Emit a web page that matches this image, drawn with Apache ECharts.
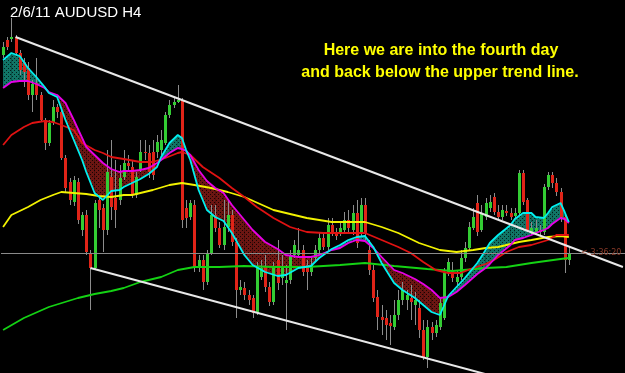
<!DOCTYPE html>
<html>
<head>
<meta charset="utf-8">
<script src="https://cdn.jsdelivr.net/npm/echarts@6/dist/echarts.min.js"></script>
<style>
  html, body { margin: 0; padding: 0; background: #000; }
  #chart { width: 625px; height: 373px; }
</style>
</head>
<body>
<div id="chart"></div>
<script>
// H4 candles, index 0 = left-most bar
var candleOpen = [1.0345,1.0360,1.0361,1.0363,1.0347,1.0338,1.0332,1.0305,1.0317,1.0305,
  1.0280,1.0257,1.0277,1.0293,1.0288,1.0242,1.0218,1.0198,1.0218,1.0170,
  1.0185,1.0147,1.0132,1.0200,1.0192,1.0170,1.0223,1.0202,1.0200,1.0223,
  1.0237,1.0233,1.0205,1.0230,1.0248,1.0247,1.0248,1.0248,1.0250,1.0257,
  1.0285,1.0295,1.0298,1.0300,1.0192,1.0183,1.0195,1.0132,1.0140,1.0118,
  1.0147,1.0185,1.0172,1.0155,1.0173,1.0185,1.0158,1.0110,1.0112,1.0105,
  1.0102,1.0088,1.0123,1.0133,1.0113,1.0098,1.0140,1.0122,1.0117,1.0120,
  1.0145,1.0145,1.0150,1.0135,1.0128,1.0142,1.0150,1.0162,1.0153,1.0175,
  1.0167,1.0167,1.0170,1.0180,1.0170,1.0187,1.0167,1.0195,1.0150,1.0130,
  1.0103,1.0083,1.0082,1.0077,1.0073,1.0085,1.0100,1.0100,1.0102,1.0095,
  1.0092,1.0070,1.0043,1.0073,1.0067,1.0073,1.0082,1.0127,1.0130,1.0118,
  1.0123,1.0142,1.0152,1.0172,1.0197,1.0170,1.0183,1.0192,1.0203,1.0188,
  1.0183,1.0189,1.0187,1.0184,1.0187,1.0227,1.0200,1.0168,1.0168,1.0170,
  1.0168,1.0213,1.0225,1.0217,1.0208,1.0183,1.0140];
var candleClose = [1.0353,1.0353,1.0363,1.0347,1.0330,1.0328,1.0305,1.0316,1.0305,1.0280,
  1.0257,1.0277,1.0293,1.0288,1.0242,1.0212,1.0200,1.0220,1.0180,1.0185,
  1.0148,1.0132,1.0197,1.0190,1.0170,1.0228,1.0193,1.0190,1.0222,1.0237,
  1.0234,1.0205,1.0223,1.0248,1.0247,1.0228,1.0225,1.0258,1.0260,1.0285,
  1.0295,1.0298,1.0300,1.0180,1.0182,1.0197,1.0132,1.0140,1.0118,1.0147,
  1.0185,1.0172,1.0155,1.0173,1.0185,1.0158,1.0110,1.0113,1.0105,1.0100,
  1.0087,1.0133,1.0132,1.0113,1.0098,1.0133,1.0117,1.0132,1.0120,1.0145,
  1.0155,1.0150,1.0128,1.0128,1.0135,1.0150,1.0162,1.0153,1.0175,1.0167,
  1.0164,1.0172,1.0180,1.0172,1.0187,1.0157,1.0195,1.0167,1.0130,1.0102,
  1.0083,1.0080,1.0075,1.0074,1.0085,1.0100,1.0110,1.0105,1.0098,1.0100,
  1.0070,1.0043,1.0073,1.0067,1.0075,1.0097,1.0127,1.0138,1.0122,1.0123,
  1.0142,1.0152,1.0173,1.0183,1.0168,1.0187,1.0197,1.0198,1.0188,1.0183,
  1.0190,1.0187,1.0183,1.0187,1.0227,1.0198,1.0170,1.0172,1.0172,1.0168,
  1.0213,1.0225,1.0217,1.0208,1.0183,1.0140,1.0147];
var candleLow = [1.0342,1.0350,1.0358,1.0344,1.0325,1.0313,1.0300,1.0288,1.0300,1.0278,
  1.0250,1.0254,1.0275,1.0282,1.0240,1.0208,1.0195,1.0194,1.0176,1.0164,
  1.0145,1.0090,1.0130,1.0172,1.0148,1.0165,1.0180,1.0172,1.0195,1.0220,
  1.0228,1.0202,1.0202,1.0228,1.0240,1.0222,1.0220,1.0242,1.0245,1.0255,
  1.0282,1.0292,1.0297,1.0172,1.0172,1.0180,1.0128,1.0128,1.0110,1.0115,
  1.0145,1.0168,1.0152,1.0150,1.0168,1.0154,1.0082,1.0105,1.0100,1.0095,
  1.0082,1.0085,1.0120,1.0108,1.0094,1.0095,1.0110,1.0115,1.0070,1.0116,
  1.0142,1.0142,1.0124,1.0110,1.0124,1.0138,1.0146,1.0150,1.0150,1.0164,
  1.0160,1.0164,1.0166,1.0168,1.0165,1.0152,1.0164,1.0160,1.0125,1.0098,
  1.0070,1.0065,1.0060,1.0055,1.0070,1.0080,1.0095,1.0090,1.0080,1.0075,
  1.0062,1.0040,1.0032,1.0060,1.0063,1.0070,1.0080,1.0124,1.0118,1.0115,
  1.0120,1.0138,1.0150,1.0170,1.0164,1.0168,1.0180,1.0188,1.0185,1.0180,
  1.0180,1.0184,1.0180,1.0181,1.0185,1.0195,1.0168,1.0165,1.0165,1.0164,
  1.0165,1.0210,1.0212,1.0204,1.0178,1.0127,1.0135];
var candleHigh = [1.0358,1.0363,1.0382,1.0365,1.0350,1.0342,1.0338,1.0320,1.0342,1.0308,
  1.0282,1.0280,1.0300,1.0296,1.0292,1.0245,1.0222,1.0224,1.0222,1.0188,
  1.0190,1.0150,1.0200,1.0204,1.0196,1.0250,1.0260,1.0240,1.0235,1.0250,
  1.0245,1.0240,1.0228,1.0260,1.0260,1.0255,1.0260,1.0265,1.0270,1.0288,
  1.0300,1.0302,1.0315,1.0302,1.0200,1.0200,1.0200,1.0145,1.0145,1.0150,
  1.0195,1.0195,1.0178,1.0200,1.0200,1.0190,1.0162,1.0120,1.0118,1.0110,
  1.0105,1.0138,1.0140,1.0145,1.0118,1.0138,1.0160,1.0145,1.0135,1.0150,
  1.0160,1.0172,1.0155,1.0140,1.0142,1.0155,1.0168,1.0168,1.0182,1.0182,
  1.0172,1.0178,1.0188,1.0190,1.0195,1.0200,1.0202,1.0202,1.0160,1.0135,
  1.0110,1.0095,1.0090,1.0085,1.0100,1.0110,1.0118,1.0110,1.0115,1.0108,
  1.0100,1.0080,1.0080,1.0078,1.0080,1.0102,1.0132,1.0142,1.0138,1.0130,
  1.0150,1.0158,1.0178,1.0192,1.0205,1.0195,1.0202,1.0205,1.0207,1.0195,
  1.0195,1.0195,1.0192,1.0192,1.0230,1.0230,1.0202,1.0178,1.0180,1.0175,
  1.0216,1.0228,1.0228,1.0222,1.0212,1.0186,1.0153];

// fast pair of averages (cyan / magenta), read at the same bars
var maIdx = [0,2,4,6,8,10,11,13,15,17,19,20,22,24,26,28,29,31,33,35,
  37,38,40,42,43,44,45,47,49,51,53,55,58,60,63,66,68,71,74,76,
  79,81,83,85,87,89,91,94,96,99,101,103,105,107,109,111,114,116,117,119,
  122,123,125,127,128,130,131,132,134,135,136];
var cyanMA = [1.0340,1.0347,1.0344,1.0332,1.0323,1.0313,1.0307,1.0303,1.0280,1.0260,
  1.0240,1.0228,1.0207,1.0200,1.0209,1.0210,1.0213,1.0217,1.0221,1.0226,
  1.0233,1.0243,1.0257,1.0265,1.0262,1.0250,1.0240,1.0210,1.0190,1.0183,
  1.0179,1.0167,1.0145,1.0135,1.0128,1.0124,1.0125,1.0132,1.0134,1.0142,
  1.0151,1.0155,1.0160,1.0163,1.0164,1.0153,1.0137,1.0117,1.0110,1.0102,
  1.0095,1.0088,1.0085,1.0104,1.0113,1.0122,1.0137,1.0150,1.0157,1.0165,
  1.0175,1.0181,1.0187,1.0187,1.0183,1.0182,1.0187,1.0193,1.0197,1.0188,1.0178];
var magentaMA = [1.0312,1.0318,1.0319,1.0319,1.0316,1.0312,1.0308,1.0305,1.0297,1.0280,
  1.0262,1.0253,1.0245,1.0237,1.0231,1.0228,1.0229,1.0229,1.0230,1.0232,
  1.0237,1.0240,1.0247,1.0252,1.0251,1.0249,1.0245,1.0230,1.0219,1.0212,
  1.0207,1.0195,1.0180,1.0170,1.0158,1.0151,1.0145,1.0143,1.0143,1.0145,
  1.0150,1.0152,1.0157,1.0160,1.0159,1.0152,1.0143,1.0130,1.0127,1.0121,
  1.0116,1.0110,1.0102,1.0103,1.0108,1.0115,1.0126,1.0132,1.0136,1.0145,
  1.0155,1.0160,1.0162,1.0165,1.0167,1.0170,1.0172,1.0176,1.0182,1.0181,1.0177];

// slower averages as [bar, price]
var redMA = [[0,1.0255],[2,1.0265],[5,1.0273],[7,1.0277],[10,1.0279],[12,1.0278],[14,1.0275],
  [17,1.0270],[19,1.0257],[22,1.0250],[24,1.0247],[26,1.0243],[29,1.0241],[33,1.0238],
  [36,1.0238],[39,1.0242],[42,1.0247],[43,1.0248],[45,1.0245],[48,1.0233],[52,1.0222],
  [55,1.0212],[58,1.0203],[61,1.0193],[65,1.0182],[69,1.0173],[73,1.0168],[77,1.0167],
  [81,1.0167],[87,1.0167],[91,1.0160],[95,1.0153],[98,1.0147],[101,1.0138],[104,1.0130],
  [107,1.0127],[110,1.0127],[113,1.0132],[116,1.0136],[118,1.0140],[121,1.0148],
  [124,1.0153],[127,1.0155],[131,1.0160],[133,1.0165],[136,1.0165]];
var yellowMA = [[0,1.0173],[2,1.0185],[6,1.0193],[9,1.0200],[12,1.0205],[14,1.0208],
  [17,1.0207],[20,1.0206],[23,1.0204],[26,1.0203],[29,1.0205],[31,1.0205],[36,1.0210],
  [40,1.0215],[43,1.0217],[46,1.0215],[50,1.0212],[54,1.0208],[58,1.0203],[65,1.0190],
  [73,1.0182],[79,1.0178],[87,1.0178],[91,1.0173],[95,1.0167],[100,1.0157],[105,1.0150],
  [109,1.0148],[113,1.0150],[116,1.0152],[119,1.0153],[124,1.0158],[127,1.0160],
  [131,1.0163],[134,1.0164],[136,1.0163]];
var greenMA = [[0,1.0070],[5,1.0082],[11,1.0093],[18,1.0102],[22,1.0106],[26,1.0109],
  [29,1.0112],[33,1.0118],[38,1.0123],[42,1.0130],[46,1.0133],[52,1.0133],[58,1.0134],
  [65,1.0133],[73,1.0133],[81,1.0135],[87,1.0137],[94,1.0134],[102,1.0131],[108,1.0129],
  [116,1.0132],[121,1.0133],[127,1.0137],[134,1.0141],[136,1.0142]];

// hand drawn trend lines [bar, price]
var upperTrend = [[3,1.0363],[149,1.0133]];
var lowerTrend = [[21,1.0132],[149,0.9989]];
var bidPrice = 1.0147;

function dots(bg, dot) {
  var c = document.createElement('canvas');
  c.width = 4; c.height = 4;
  var g = c.getContext('2d');
  g.fillStyle = bg; g.fillRect(0, 0, 4, 4);
  g.fillStyle = dot; g.fillRect(0, 0, 1, 1); g.fillRect(2, 2, 1, 1);
  return c;
}
var tealFill = { image: dots('#117566', '#02201c'), repeat: 'repeat' };
var redFill = { image: dots('#6c1612', '#150404'), repeat: 'repeat' };

var chart = echarts.init(document.getElementById('chart'));

var candleData = candleOpen.map(function (o, i) {
  return [i, o, candleClose[i], candleLow[i], candleHigh[i]];
});

function pairs(idx, vals) {
  return idx.map(function (i, k) { return [i, vals[k]]; });
}

function maLine(data, color, z) {
  return {
    type: 'line', data: data, showSymbol: false, symbol: 'none',
    smooth: false, z: z, silent: true,
    lineStyle: { color: color, width: 1.8 }
  };
}

var option = {
  backgroundColor: '#000',
  animation: false,
  grid: { left: 1, right: 0, top: 0, bottom: 0 },
  xAxis: { type: 'value', min: -0.5, max: 149.5, show: false },
  yAxis: { type: 'value', min: 1.0027, max: 1.0400, show: false },
  graphic: [
    { type: 'text', left: 10, top: 5, style: { text: '2/6/11 AUDUSD H4', fill: '#fff', font: '15px "Liberation Sans", Arial, sans-serif' } },
    { type: 'text', x: 441, y: 43, style: { text: 'Here we are into the fourth day', fill: '#ffff00', align: 'center', font: 'bold 16px "Liberation Sans", Arial, sans-serif' } },
    { type: 'text', x: 440, y: 65, style: { text: 'and back below the upper trend line.', fill: '#ffff00', align: 'center', font: 'bold 16px "Liberation Sans", Arial, sans-serif' } },
    { type: 'text', x: 581, y: 249, z: 20, style: { text: '<-3:36:20', fill: '#8a3a28', font: '8px "DejaVu Sans", sans-serif' } }
  ],
  series: [
    {
      // band between the cyan and magenta averages
      type: 'custom', silent: true, z: 1,
      data: [[0, 1.02]],
      renderItem: function (params, api) {
        var kids = [];
        for (var k = 0; k < maIdx.length - 1; k++) {
          var c1 = api.coord([maIdx[k], cyanMA[k]]);
          var c2 = api.coord([maIdx[k + 1], cyanMA[k + 1]]);
          var m1 = api.coord([maIdx[k], magentaMA[k]]);
          var m2 = api.coord([maIdx[k + 1], magentaMA[k + 1]]);
          var d1 = cyanMA[k] - magentaMA[k];
          var d2 = cyanMA[k + 1] - magentaMA[k + 1];
          if (d1 * d2 >= 0) {
            kids.push({ type: 'polygon', shape: { points: [c1, c2, m2, m1] },
              style: { fill: (d1 + d2) >= 0 ? tealFill : redFill } });
          } else {
            var t = d1 / (d1 - d2);
            var p = [c1[0] + t * (c2[0] - c1[0]), c1[1] + t * (c2[1] - c1[1])];
            kids.push({ type: 'polygon', shape: { points: [c1, p, m1] }, style: { fill: d1 > 0 ? tealFill : redFill } });
            kids.push({ type: 'polygon', shape: { points: [p, c2, m2] }, style: { fill: d2 > 0 ? tealFill : redFill } });
          }
        }
        return { type: 'group', children: kids };
      }
    },
    {
      type: 'custom', silent: true, z: 2,
      data: candleData,
      encode: { x: 0, y: [1, 2, 3, 4] },
      renderItem: function (params, api) {
        var i = api.value(0), o = api.value(1), c = api.value(2);
        var lo = api.coord([i, api.value(3)]);
        var hi = api.coord([i, api.value(4)]);
        var top = api.coord([i, Math.max(o, c)]);
        var bot = api.coord([i, Math.min(o, c)]);
        var x = Math.round(top[0]);
        return {
          type: 'group',
          children: [
            { type: 'line', shape: { x1: x + 0.5, y1: hi[1], x2: x + 0.5, y2: lo[1] },
              style: { stroke: '#8c8c8c', lineWidth: 1 } },
            { type: 'rect', shape: { x: x - 1, y: Math.round(top[1]), width: 3, height: Math.max(1, Math.round(bot[1] - top[1])) },
              style: { fill: c >= o ? '#33cc33' : '#e02418' } }
          ]
        };
      }
    },
    maLine(greenMA, '#14d214', 3),
    maLine(yellowMA, '#f2f200', 3),
    maLine(redMA, '#e01212', 3),
    maLine(pairs(maIdx, magentaMA), '#e600e6', 4),
    maLine(pairs(maIdx, cyanMA), '#00f0f0', 4),
    {
      type: 'line', data: upperTrend, showSymbol: false, symbol: 'none', z: 5, silent: true,
      lineStyle: { color: '#e8e8e8', width: 2 }
    },
    {
      type: 'line', data: lowerTrend, showSymbol: false, symbol: 'none', z: 5, silent: true,
      lineStyle: { color: '#e8e8e8', width: 2 },
      markLine: {
        silent: true, symbol: 'none', precision: 4, label: { show: false },
        lineStyle: { color: '#8a8a8a', width: 1, type: 'solid' },
        data: [{ yAxis: bidPrice }]
      }
    }
  ]
};
chart.setOption(option);
</script>
</body>
</html>
